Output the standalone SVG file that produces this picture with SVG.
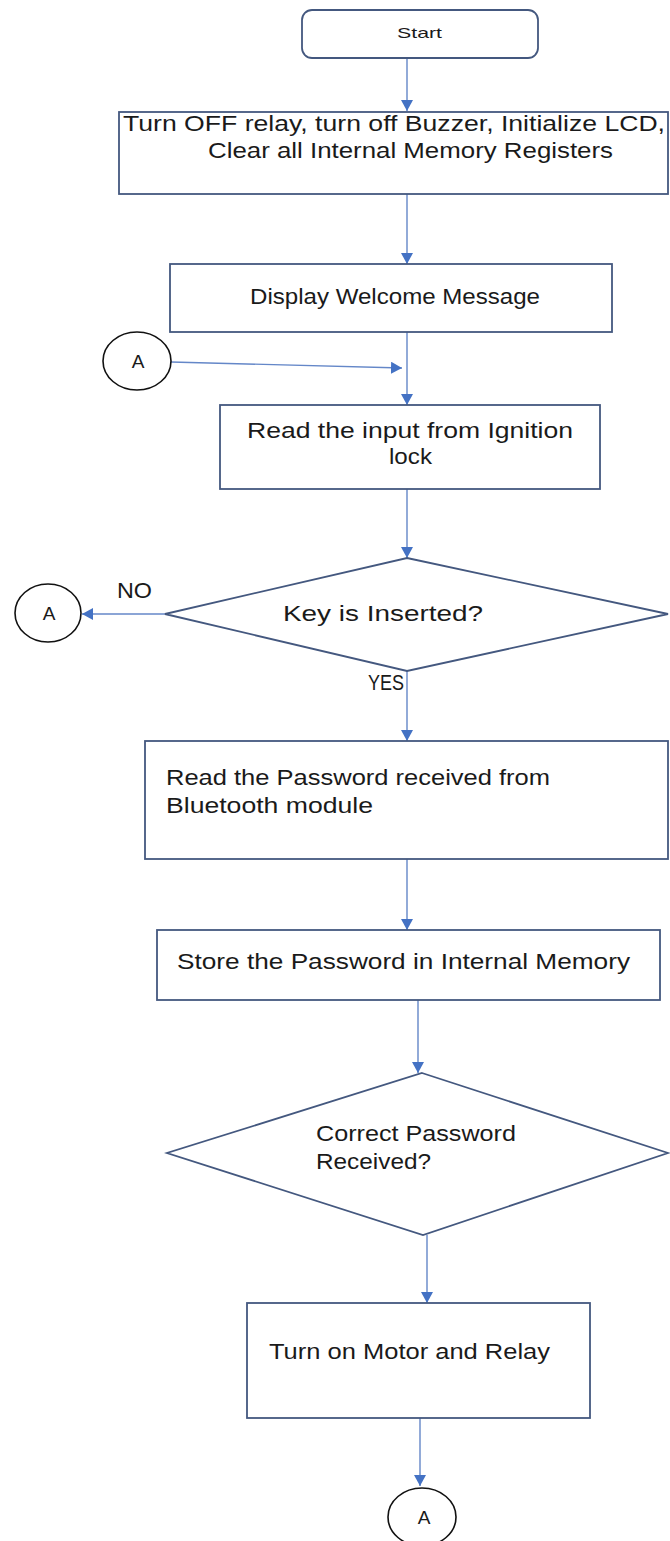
<svg xmlns="http://www.w3.org/2000/svg" width="670" height="1541" viewBox="0 0 670 1541">
<defs>
<style>
.box{fill:#fff;stroke:#44587F;stroke-width:1.8}
.circ{fill:#fff;stroke:#111;stroke-width:1.6}
.conn{fill:none;stroke:#6487C8;stroke-width:1.4}
.t{font-family:"Liberation Sans",Arial,sans-serif;font-size:22px;fill:#1A1A1A}
.s{font-size:15px}
.c{font-family:"Liberation Sans",Arial,sans-serif;font-size:19px;fill:#1A1A1A;text-anchor:middle}
</style>
<marker id="ah" markerUnits="userSpaceOnUse" markerWidth="12" markerHeight="12" refX="11" refY="6" orient="auto">
<path d="M0,0 L11,6 L0,12 z" fill="#4472C4"/>
</marker>
</defs>
<rect width="670" height="1541" fill="#fff"/>
<g id="connectors">
<path class="conn" d="M407,58 V111" marker-end="url(#ah)"/>
<path class="conn" d="M407,194 V264" marker-end="url(#ah)"/>
<path class="conn" d="M407,332 V405" marker-end="url(#ah)"/>
<path class="conn" d="M171,362 L402,368" marker-end="url(#ah)"/>
<path class="conn" d="M407,489 V558" marker-end="url(#ah)"/>
<path class="conn" d="M165,614 H82" marker-end="url(#ah)"/>
<path class="conn" d="M407,671 V741" marker-end="url(#ah)"/>
<path class="conn" d="M407,859 V930" marker-end="url(#ah)"/>
<path class="conn" d="M418,1000 V1073" marker-end="url(#ah)"/>
<path class="conn" d="M427,1235 V1303" marker-end="url(#ah)"/>
<path class="conn" d="M420,1418 V1486" marker-end="url(#ah)"/>
</g>
<g id="start">
<rect class="box" x="302" y="10" width="236" height="48" rx="10"/>
<text class="t s" x="397" y="38" textLength="45" lengthAdjust="spacingAndGlyphs">Start</text>
</g>
<g id="init">
<rect class="box" x="119" y="112" width="549" height="82"/>
<text class="t" x="123" y="131" textLength="542" lengthAdjust="spacingAndGlyphs">Turn OFF relay, turn off Buzzer, Initialize LCD,</text>
<text class="t" x="208" y="158" textLength="405" lengthAdjust="spacingAndGlyphs">Clear all Internal Memory Registers</text>
</g>
<g id="welcome">
<rect class="box" x="170" y="264" width="442" height="68"/>
<text class="t" x="250" y="304" textLength="290" lengthAdjust="spacingAndGlyphs">Display Welcome Message</text>
</g>
<g id="connA1">
<ellipse class="circ" cx="137" cy="361" rx="34" ry="29"/>
<text class="c" x="138" y="368">A</text>
</g>
<g id="readIgn">
<rect class="box" x="220" y="405" width="380" height="84"/>
<text class="t" x="247" y="438" textLength="326" lengthAdjust="spacingAndGlyphs">Read the input from Ignition</text>
<text class="t" x="389" y="464" textLength="43" lengthAdjust="spacingAndGlyphs">lock</text>
</g>
<g id="keyDecision">
<polygon class="box" points="407,558 668,614 407,671 165,614"/>
<text class="t" x="283" y="621" textLength="200" lengthAdjust="spacingAndGlyphs">Key is Inserted?</text>
</g>
<g id="connA2">
<ellipse class="circ" cx="48" cy="613" rx="33" ry="29"/>
<text class="c" x="49" y="620">A</text>
</g>
<text class="t" x="117" y="598" font-size="19" textLength="35" lengthAdjust="spacingAndGlyphs">NO</text>
<text class="t" x="368" y="690" font-size="19" textLength="36" lengthAdjust="spacingAndGlyphs">YES</text>
<g id="readPwd">
<rect class="box" x="145" y="741" width="523" height="118"/>
<text class="t" x="166" y="785" textLength="384" lengthAdjust="spacingAndGlyphs">Read the Password received from</text>
<text class="t" x="166" y="813" textLength="207" lengthAdjust="spacingAndGlyphs">Bluetooth module</text>
</g>
<g id="storePwd">
<rect class="box" x="157" y="930" width="503" height="70"/>
<text class="t" x="177" y="969" textLength="453" lengthAdjust="spacingAndGlyphs">Store the Password in Internal Memory</text>
</g>
<g id="pwdDecision">
<polygon class="box" points="422,1073 668,1153 423,1235 167,1153"/>
<text class="t" x="316" y="1141" textLength="200" lengthAdjust="spacingAndGlyphs">Correct Password</text>
<text class="t" x="316" y="1169" textLength="115" lengthAdjust="spacingAndGlyphs">Received?</text>
</g>
<g id="motor">
<rect class="box" x="247" y="1303" width="343" height="115"/>
<text class="t" x="269" y="1359" textLength="281" lengthAdjust="spacingAndGlyphs">Turn on Motor and Relay</text>
</g>
<g id="connA3">
<ellipse class="circ" cx="422" cy="1517" rx="34" ry="29"/>
<text class="c" x="424" y="1524">A</text>
</g>
</svg>
